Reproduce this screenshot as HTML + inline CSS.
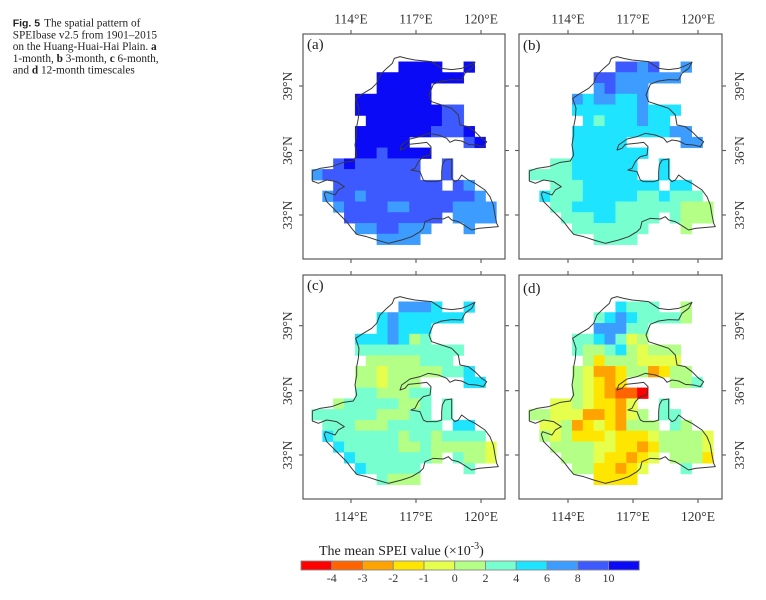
<!DOCTYPE html>
<html>
<head>
<meta charset="utf-8">
<style>
html,body{margin:0;padding:0;background:#fff;}
svg{display:block;}
.R{fill:#ff0000;stroke:#ff0000}
.O{fill:#ff6400;stroke:#ff6400}
.A{fill:#ffa300;stroke:#ffa300}
.Y{fill:#ffe600;stroke:#ffe600}
.L{fill:#e6ff4c;stroke:#e6ff4c}
.G{fill:#b4ff86;stroke:#b4ff86}
.T{fill:#78ffd0;stroke:#78ffd0}
.C{fill:#1ee4ff;stroke:#1ee4ff}
.S{fill:#3c9cff;stroke:#3c9cff}
.B{fill:#3c5aff;stroke:#3c5aff}
.D{fill:#0a0af6;stroke:#0a0af6}
.cells rect{stroke-width:0.04;}
.ax{font-family:"Liberation Serif",serif;font-size:13.5px;fill:#333;}
.frame{fill:none;stroke:#5a5a5a;stroke-width:1.2;}
.tick{stroke:#5a5a5a;stroke-width:1.1;}
.cap{font-family:"Liberation Serif",serif;font-size:11.3px;fill:#222;}
</style>
</head>
<body>
<svg width="766" height="600" viewBox="0 0 766 600" xmlns="http://www.w3.org/2000/svg">
<rect x="0" y="0" width="766" height="600" fill="#fff"/>
<defs>
<path id="ol" fill="none" stroke="#3a3a3a" stroke-width="3" stroke-linejoin="round" d="M268 10 L285 5 L305 10 L330 15 L380 20 L410 40 L440 44 L470 40 L490 32 L510 22 L500 40 L480 55 L470 75 L440 74 L410 78 L385 88 L372 120 L380 140 L410 150 L440 160 L460 180 L465 210 L490 215 L510 230 L530 250 L545 260 L535 275 L515 270 L490 268 L470 258 L450 255 L435 262 L425 250 L400 240 L370 235 L345 245 L315 252 L290 270 L285 285 L300 280 L310 268 L340 265 L365 262 L378 275 L375 300 L355 305 L340 320 L330 340 L318 345 L345 350 L355 375 L365 380 L395 380 L410 375 L410 350 L412 330 L420 315 L440 312 L440 345 L440 370 L450 380 L460 375 L470 360 L490 375 L510 385 L540 405 L555 425 L565 450 L570 480 L575 505 L580 515 L545 518 L520 520 L500 525 L480 512 L460 500 L440 495 L430 485 L415 492 L385 490 L360 500 L355 520 L345 530 L320 545 L290 555 L250 565 L215 555 L185 545 L155 538 L140 520 L125 500 L105 480 L85 460 L65 440 L58 418 L62 410 L90 420 L100 405 L118 395 L95 380 L65 375 L40 385 L22 378 L22 348 L45 340 L80 335 L115 322 L145 318 L155 300 L150 270 L155 240 L155 215 L160 190 L162 160 L152 130 L170 118 L200 100 L215 85 L225 60 L245 40 L262 25 Z"/>
</defs>

<!-- Caption -->
<text class="cap" x="12.7" y="26.5"><tspan font-family="Liberation Sans, sans-serif" font-weight="bold" font-size="10.5">Fig. 5</tspan><tspan dx="4">The spatial pattern of</tspan></text>
<text class="cap" x="12.7" y="38.3">SPEIbase v2.5 from 1901–2015</text>
<text class="cap" x="12.7" y="50.1">on the Huang-Huai-Hai Plain. <tspan font-weight="bold">a</tspan></text>
<text class="cap" x="12.7" y="61.9">1-month, <tspan font-weight="bold">b</tspan> 3-month, <tspan font-weight="bold">c</tspan> 6-month,</text>
<text class="cap" x="12.7" y="73.7">and <tspan font-weight="bold">d</tspan> 12-month timescales</text>

<!-- ===== Panel A ===== -->
<g class="cells" transform="translate(311.7,61.7) scale(10.867,10.767)">
<rect class="D" x="8" y="0" width="4" height="1"/><rect class="D" x="14" y="0" width="1" height="1"/>
<rect class="D" x="6" y="1" width="8" height="1"/>
<rect class="D" x="6" y="2" width="5" height="1"/>
<rect class="D" x="4" y="3" width="7" height="1"/>
<rect class="D" x="4" y="4" width="8" height="1"/><rect class="B" x="12" y="4" width="2" height="1"/>
<rect class="D" x="5" y="5" width="7" height="1"/><rect class="B" x="12" y="5" width="2" height="1"/>
<rect class="D" x="4" y="6" width="7" height="1"/><rect class="B" x="11" y="6" width="3" height="1"/><rect class="D" x="14" y="6" width="1" height="1"/>
<rect class="D" x="4" y="7" width="5" height="1"/><rect class="B" x="14" y="7" width="1" height="1"/><rect class="D" x="15" y="7" width="1" height="1"/>
<rect class="D" x="4" y="8" width="2" height="1"/><rect class="B" x="6" y="8" width="1" height="1"/><rect class="D" x="7" y="8" width="4" height="1"/>
<rect class="B" x="2" y="9" width="1" height="1"/><rect class="D" x="3" y="9" width="1" height="1"/><rect class="B" x="4" y="9" width="6" height="1"/><rect class="B" x="12" y="9" width="1" height="1"/>
<rect class="S" x="0" y="10" width="1" height="1"/><rect class="B" x="1" y="10" width="9" height="1"/><rect class="B" x="12" y="10" width="1" height="1"/>
<rect class="B" x="2" y="11" width="10" height="1"/><rect class="B" x="13" y="11" width="1" height="1"/><rect class="S" x="14" y="11" width="1" height="1"/>
<rect class="S" x="1" y="12" width="1" height="1"/><rect class="B" x="2" y="12" width="2" height="1"/><rect class="S" x="4" y="12" width="1" height="1"/><rect class="B" x="5" y="12" width="10" height="1"/><rect class="S" x="15" y="12" width="1" height="1"/>
<rect class="S" x="2" y="13" width="1" height="1"/><rect class="B" x="3" y="13" width="4" height="1"/><rect class="S" x="7" y="13" width="2" height="1"/><rect class="B" x="9" y="13" width="4" height="1"/><rect class="S" x="13" y="13" width="4" height="1"/>
<rect class="B" x="3" y="14" width="9" height="1"/><rect class="S" x="13" y="14" width="4" height="1"/>
<rect class="S" x="4" y="15" width="2" height="1"/><rect class="B" x="6" y="15" width="2" height="1"/><rect class="S" x="8" y="15" width="3" height="1"/><rect class="S" x="14" y="15" width="1" height="1"/>
<rect class="S" x="6" y="16" width="4" height="1"/>
</g>
<use href="#ol" transform="translate(305,55) scale(0.33333)"/>

<!-- ===== Panel B ===== -->
<g class="cells" transform="translate(528.7,61.7) scale(10.867,10.767)">
<rect class="B" x="8" y="0" width="2" height="1"/><rect class="S" x="10" y="0" width="1" height="1"/><rect class="B" x="11" y="0" width="1" height="1"/><rect class="S" x="14" y="0" width="1" height="1"/>
<rect class="B" x="6" y="1" width="2" height="1"/><rect class="S" x="8" y="1" width="6" height="1"/>
<rect class="S" x="6" y="2" width="1" height="1"/><rect class="B" x="7" y="2" width="1" height="1"/><rect class="S" x="8" y="2" width="3" height="1"/>
<rect class="S" x="4" y="3" width="1" height="1"/><rect class="C" x="5" y="3" width="1" height="1"/><rect class="S" x="6" y="3" width="2" height="1"/><rect class="C" x="8" y="3" width="2" height="1"/><rect class="S" x="10" y="3" width="1" height="1"/>
<rect class="C" x="4" y="4" width="6" height="1"/><rect class="S" x="10" y="4" width="1" height="1"/><rect class="C" x="11" y="4" width="3" height="1"/>
<rect class="C" x="5" y="5" width="1" height="1"/><rect class="T" x="6" y="5" width="1" height="1"/><rect class="C" x="7" y="5" width="3" height="1"/><rect class="S" x="10" y="5" width="1" height="1"/><rect class="C" x="11" y="5" width="2" height="1"/>
<rect class="C" x="4" y="6" width="9" height="1"/><rect class="S" x="13" y="6" width="2" height="1"/>
<rect class="C" x="4" y="7" width="5" height="1"/><rect class="S" x="14" y="7" width="2" height="1"/>
<rect class="C" x="4" y="8" width="7" height="1"/>
<rect class="T" x="2" y="9" width="2" height="1"/><rect class="C" x="4" y="9" width="6" height="1"/><rect class="C" x="12" y="9" width="1" height="1"/>
<rect class="T" x="0" y="10" width="4" height="1"/><rect class="C" x="4" y="10" width="6" height="1"/><rect class="C" x="12" y="10" width="1" height="1"/>
<rect class="T" x="2" y="11" width="3" height="1"/><rect class="C" x="5" y="11" width="7" height="1"/><rect class="C" x="13" y="11" width="2" height="1"/>
<rect class="C" x="1" y="12" width="1" height="1"/><rect class="T" x="2" y="12" width="3" height="1"/><rect class="C" x="5" y="12" width="5" height="1"/><rect class="T" x="10" y="12" width="2" height="1"/><rect class="C" x="12" y="12" width="1" height="1"/><rect class="T" x="13" y="12" width="3" height="1"/>
<rect class="T" x="2" y="13" width="2" height="1"/><rect class="C" x="4" y="13" width="4" height="1"/><rect class="T" x="8" y="13" width="6" height="1"/><rect class="G" x="14" y="13" width="3" height="1"/>
<rect class="T" x="3" y="14" width="3" height="1"/><rect class="C" x="6" y="14" width="2" height="1"/><rect class="T" x="8" y="14" width="4" height="1"/><rect class="T" x="13" y="14" width="1" height="1"/><rect class="G" x="14" y="14" width="3" height="1"/>
<rect class="T" x="4" y="15" width="7" height="1"/><rect class="G" x="14" y="15" width="1" height="1"/>
<rect class="T" x="6" y="16" width="4" height="1"/>
</g>
<use href="#ol" transform="translate(522,55) scale(0.33333)"/>

<!-- ===== Panel C ===== -->
<g class="cells" transform="translate(311.7,301.7) scale(10.867,10.767)">
<rect class="S" x="8" y="0" width="3" height="1"/><rect class="C" x="11" y="0" width="1" height="1"/><rect class="C" x="14" y="0" width="1" height="1"/>
<rect class="C" x="6" y="1" width="1" height="1"/><rect class="S" x="7" y="1" width="1" height="1"/><rect class="C" x="8" y="1" width="6" height="1"/>
<rect class="C" x="6" y="2" width="1" height="1"/><rect class="S" x="7" y="2" width="1" height="1"/><rect class="C" x="8" y="2" width="3" height="1"/>
<rect class="C" x="4" y="3" width="3" height="1"/><rect class="S" x="7" y="3" width="1" height="1"/><rect class="C" x="8" y="3" width="1" height="1"/><rect class="G" x="9" y="3" width="1" height="1"/><rect class="T" x="10" y="3" width="1" height="1"/>
<rect class="T" x="4" y="4" width="10" height="1"/>
<rect class="G" x="5" y="5" width="5" height="1"/><rect class="T" x="10" y="5" width="3" height="1"/>
<rect class="G" x="4" y="6" width="2" height="1"/><rect class="L" x="6" y="6" width="1" height="1"/><rect class="G" x="7" y="6" width="5" height="1"/><rect class="T" x="12" y="6" width="2" height="1"/><rect class="C" x="14" y="6" width="1" height="1"/>
<rect class="G" x="4" y="7" width="2" height="1"/><rect class="L" x="6" y="7" width="1" height="1"/><rect class="G" x="7" y="7" width="3" height="1"/><rect class="C" x="14" y="7" width="2" height="1"/>
<rect class="T" x="4" y="8" width="2" height="1"/><rect class="G" x="6" y="8" width="3" height="1"/><rect class="T" x="9" y="8" width="2" height="1"/>
<rect class="G" x="2" y="9" width="1" height="1"/><rect class="T" x="3" y="9" width="5" height="1"/><rect class="G" x="8" y="9" width="2" height="1"/><rect class="T" x="10" y="9" width="1" height="1"/><rect class="T" x="12" y="9" width="1" height="1"/>
<rect class="T" x="0" y="10" width="6" height="1"/><rect class="G" x="6" y="10" width="3" height="1"/><rect class="T" x="9" y="10" width="2" height="1"/><rect class="T" x="12" y="10" width="1" height="1"/>
<rect class="T" x="1" y="11" width="3" height="1"/><rect class="G" x="4" y="11" width="3" height="1"/><rect class="T" x="7" y="11" width="5" height="1"/><rect class="C" x="13" y="11" width="2" height="1"/>
<rect class="C" x="1" y="12" width="1" height="1"/><rect class="T" x="2" y="12" width="6" height="1"/><rect class="G" x="8" y="12" width="1" height="1"/><rect class="T" x="9" y="12" width="2" height="1"/><rect class="G" x="11" y="12" width="1" height="1"/><rect class="T" x="12" y="12" width="4" height="1"/>
<rect class="C" x="2" y="13" width="1" height="1"/><rect class="T" x="3" y="13" width="5" height="1"/><rect class="G" x="8" y="13" width="2" height="1"/><rect class="T" x="10" y="13" width="1" height="1"/><rect class="G" x="11" y="13" width="5" height="1"/><rect class="L" x="16" y="13" width="1" height="1"/>
<rect class="C" x="3" y="14" width="1" height="1"/><rect class="T" x="4" y="14" width="7" height="1"/><rect class="G" x="11" y="14" width="1" height="1"/><rect class="T" x="13" y="14" width="1" height="1"/><rect class="G" x="14" y="14" width="2" height="1"/><rect class="L" x="16" y="14" width="1" height="1"/>
<rect class="C" x="4" y="15" width="1" height="1"/><rect class="T" x="5" y="15" width="5" height="1"/><rect class="T" x="14" y="15" width="1" height="1"/>
<rect class="T" x="6" y="16" width="1" height="1"/><rect class="G" x="7" y="16" width="3" height="1"/>
</g>
<use href="#ol" transform="translate(305,295) scale(0.33333)"/>

<!-- ===== Panel D ===== -->
<g class="cells" transform="translate(528.7,301.7) scale(10.867,10.767)">
<rect class="C" x="8" y="0" width="1" height="1"/><rect class="T" x="9" y="0" width="3" height="1"/><rect class="G" x="14" y="0" width="1" height="1"/>
<rect class="T" x="6" y="1" width="1" height="1"/><rect class="C" x="7" y="1" width="1" height="1"/><rect class="S" x="8" y="1" width="1" height="1"/><rect class="C" x="9" y="1" width="1" height="1"/><rect class="T" x="10" y="1" width="4" height="1"/><rect class="G" x="14" y="1" width="1" height="1"/>
<rect class="S" x="6" y="2" width="3" height="1"/><rect class="T" x="9" y="2" width="2" height="1"/>
<rect class="T" x="4" y="3" width="2" height="1"/><rect class="C" x="6" y="3" width="1" height="1"/><rect class="S" x="7" y="3" width="1" height="1"/><rect class="T" x="8" y="3" width="1" height="1"/><rect class="L" x="9" y="3" width="1" height="1"/><rect class="G" x="10" y="3" width="1" height="1"/>
<rect class="T" x="4" y="4" width="1" height="1"/><rect class="G" x="5" y="4" width="2" height="1"/><rect class="T" x="7" y="4" width="1" height="1"/><rect class="C" x="8" y="4" width="1" height="1"/><rect class="G" x="9" y="4" width="1" height="1"/><rect class="L" x="10" y="4" width="1" height="1"/><rect class="G" x="11" y="4" width="3" height="1"/>
<rect class="G" x="5" y="5" width="1" height="1"/><rect class="Y" x="6" y="5" width="1" height="1"/><rect class="G" x="7" y="5" width="3" height="1"/><rect class="L" x="10" y="5" width="4" height="1"/>
<rect class="G" x="4" y="6" width="1" height="1"/><rect class="L" x="5" y="6" width="1" height="1"/><rect class="A" x="6" y="6" width="2" height="1"/><rect class="Y" x="8" y="6" width="1" height="1"/><rect class="G" x="9" y="6" width="2" height="1"/><rect class="A" x="11" y="6" width="1" height="1"/><rect class="Y" x="12" y="6" width="1" height="1"/><rect class="G" x="13" y="6" width="2" height="1"/>
<rect class="G" x="4" y="7" width="1" height="1"/><rect class="L" x="5" y="7" width="1" height="1"/><rect class="Y" x="6" y="7" width="1" height="1"/><rect class="A" x="7" y="7" width="1" height="1"/><rect class="Y" x="8" y="7" width="1" height="1"/><rect class="G" x="13" y="7" width="2" height="1"/><rect class="T" x="15" y="7" width="1" height="1"/>
<rect class="G" x="4" y="8" width="1" height="1"/><rect class="L" x="5" y="8" width="1" height="1"/><rect class="Y" x="6" y="8" width="1" height="1"/><rect class="A" x="7" y="8" width="1" height="1"/><rect class="O" x="8" y="8" width="2" height="1"/><rect class="R" x="10" y="8" width="1" height="1"/>
<rect class="L" x="2" y="9" width="2" height="1"/><rect class="G" x="4" y="9" width="1" height="1"/><rect class="L" x="5" y="9" width="1" height="1"/><rect class="Y" x="6" y="9" width="2" height="1"/><rect class="A" x="8" y="9" width="1" height="1"/><rect class="L" x="9" y="9" width="1" height="1"/><rect class="T" x="12" y="9" width="1" height="1"/>
<rect class="G" x="0" y="10" width="2" height="1"/><rect class="L" x="2" y="10" width="3" height="1"/><rect class="A" x="5" y="10" width="2" height="1"/><rect class="Y" x="7" y="10" width="1" height="1"/><rect class="A" x="8" y="10" width="1" height="1"/><rect class="L" x="9" y="10" width="1" height="1"/><rect class="G" x="10" y="10" width="1" height="1"/><rect class="T" x="12" y="10" width="2" height="1"/>
<rect class="L" x="1" y="11" width="2" height="1"/><rect class="G" x="3" y="11" width="1" height="1"/><rect class="A" x="4" y="11" width="1" height="1"/><rect class="Y" x="5" y="11" width="1" height="1"/><rect class="L" x="6" y="11" width="1" height="1"/><rect class="Y" x="7" y="11" width="1" height="1"/><rect class="A" x="8" y="11" width="1" height="1"/><rect class="G" x="9" y="11" width="3" height="1"/><rect class="T" x="13" y="11" width="1" height="1"/><rect class="G" x="14" y="11" width="1" height="1"/>
<rect class="G" x="1" y="12" width="1" height="1"/><rect class="L" x="2" y="12" width="1" height="1"/><rect class="G" x="3" y="12" width="1" height="1"/><rect class="Y" x="4" y="12" width="3" height="1"/><rect class="L" x="7" y="12" width="1" height="1"/><rect class="Y" x="8" y="12" width="3" height="1"/><rect class="L" x="11" y="12" width="1" height="1"/><rect class="G" x="12" y="12" width="4" height="1"/><rect class="L" x="16" y="12" width="1" height="1"/>
<rect class="G" x="2" y="13" width="4" height="1"/><rect class="L" x="6" y="13" width="2" height="1"/><rect class="Y" x="8" y="13" width="2" height="1"/><rect class="A" x="10" y="13" width="1" height="1"/><rect class="Y" x="11" y="13" width="1" height="1"/><rect class="G" x="12" y="13" width="4" height="1"/><rect class="L" x="16" y="13" width="1" height="1"/>
<rect class="G" x="3" y="14" width="3" height="1"/><rect class="L" x="6" y="14" width="1" height="1"/><rect class="Y" x="7" y="14" width="2" height="1"/><rect class="A" x="9" y="14" width="1" height="1"/><rect class="Y" x="10" y="14" width="1" height="1"/><rect class="L" x="11" y="14" width="1" height="1"/><rect class="G" x="13" y="14" width="3" height="1"/><rect class="Y" x="16" y="14" width="1" height="1"/>
<rect class="G" x="4" y="15" width="2" height="1"/><rect class="Y" x="6" y="15" width="2" height="1"/><rect class="A" x="8" y="15" width="1" height="1"/><rect class="Y" x="9" y="15" width="1" height="1"/><rect class="L" x="10" y="15" width="1" height="1"/><rect class="T" x="14" y="15" width="1" height="1"/>
<rect class="Y" x="6" y="16" width="4" height="1"/>
</g>
<use href="#ol" transform="translate(522,295) scale(0.33333)"/>

<!-- Frames -->
<rect class="frame" x="303" y="34" width="202" height="225"/>
<rect class="frame" x="519" y="34" width="203" height="225"/>
<rect class="frame" x="303" y="275" width="202" height="224"/>
<rect class="frame" x="519" y="275" width="203" height="224"/>

<!-- Ticks -->
<g class="tick">
<!-- panel a -->
<line x1="351" y1="30" x2="351" y2="34"/><line x1="416" y1="30" x2="416" y2="34"/><line x1="481" y1="30" x2="481" y2="34"/>
<line x1="351" y1="259" x2="351" y2="263"/><line x1="416" y1="259" x2="416" y2="263"/><line x1="481" y1="259" x2="481" y2="263"/>
<line x1="299" y1="86" x2="303" y2="86"/><line x1="299" y1="150.5" x2="303" y2="150.5"/><line x1="299" y1="215" x2="303" y2="215"/>
<line x1="505" y1="86" x2="509" y2="86"/><line x1="505" y1="150.5" x2="509" y2="150.5"/><line x1="505" y1="215" x2="509" y2="215"/>
<!-- panel b -->
<line x1="568" y1="30" x2="568" y2="34"/><line x1="633" y1="30" x2="633" y2="34"/><line x1="698" y1="30" x2="698" y2="34"/>
<line x1="568" y1="259" x2="568" y2="263"/><line x1="633" y1="259" x2="633" y2="263"/><line x1="698" y1="259" x2="698" y2="263"/>
<line x1="515" y1="86" x2="519" y2="86"/><line x1="515" y1="150.5" x2="519" y2="150.5"/><line x1="515" y1="215" x2="519" y2="215"/>
<line x1="722" y1="86" x2="726" y2="86"/><line x1="722" y1="150.5" x2="726" y2="150.5"/><line x1="722" y1="215" x2="726" y2="215"/>
<!-- panel c -->
<line x1="351" y1="271" x2="351" y2="275"/><line x1="416" y1="271" x2="416" y2="275"/><line x1="481" y1="271" x2="481" y2="275"/>
<line x1="351" y1="499" x2="351" y2="503"/><line x1="416" y1="499" x2="416" y2="503"/><line x1="481" y1="499" x2="481" y2="503"/>
<line x1="299" y1="325.7" x2="303" y2="325.7"/><line x1="299" y1="390.7" x2="303" y2="390.7"/><line x1="299" y1="455" x2="303" y2="455"/>
<line x1="505" y1="325.7" x2="509" y2="325.7"/><line x1="505" y1="390.7" x2="509" y2="390.7"/><line x1="505" y1="455" x2="509" y2="455"/>
<!-- panel d -->
<line x1="568" y1="271" x2="568" y2="275"/><line x1="633" y1="271" x2="633" y2="275"/><line x1="698" y1="271" x2="698" y2="275"/>
<line x1="568" y1="499" x2="568" y2="503"/><line x1="633" y1="499" x2="633" y2="503"/><line x1="698" y1="499" x2="698" y2="503"/>
<line x1="515" y1="325.7" x2="519" y2="325.7"/><line x1="515" y1="390.7" x2="519" y2="390.7"/><line x1="515" y1="455" x2="519" y2="455"/>
<line x1="722" y1="325.7" x2="726" y2="325.7"/><line x1="722" y1="390.7" x2="726" y2="390.7"/><line x1="722" y1="455" x2="726" y2="455"/>
</g>

<!-- Top lon labels -->
<g class="ax" text-anchor="middle">
<text x="351" y="23.5">114°E</text><text x="416" y="23.5">117°E</text><text x="481" y="23.5">120°E</text>
<text x="568" y="23.5">114°E</text><text x="633" y="23.5">117°E</text><text x="698" y="23.5">120°E</text>
<text x="351" y="521">114°E</text><text x="416" y="521">117°E</text><text x="481" y="521">120°E</text>
<text x="568" y="521">114°E</text><text x="633" y="521">117°E</text><text x="698" y="521">120°E</text>
</g>

<!-- Right lat labels (b, d) -->
<g class="ax" text-anchor="middle">
<text transform="translate(744,86) rotate(-90)">39°N</text>
<text transform="translate(744,150.5) rotate(-90)">36°N</text>
<text transform="translate(744,215) rotate(-90)">33°N</text>
<text transform="translate(744,325.7) rotate(-90)">39°N</text>
<text transform="translate(744,390.7) rotate(-90)">36°N</text>
<text transform="translate(744,455) rotate(-90)">33°N</text>
</g>
<!-- Left lat labels (a, c) -->
<g class="ax" text-anchor="middle" fill="#555">
<text transform="translate(292,86) rotate(-90)">39°N</text>
<text transform="translate(292,150.5) rotate(-90)">36°N</text>
<text transform="translate(292,215) rotate(-90)">33°N</text>
<text transform="translate(292,325.7) rotate(-90)">39°N</text>
<text transform="translate(292,390.7) rotate(-90)">36°N</text>
<text transform="translate(292,455) rotate(-90)">33°N</text>
</g>

<!-- Panel tags -->
<g font-family="Liberation Serif, serif" font-size="15" fill="#222">
<text x="307" y="49">(a)</text>
<text x="523" y="50">(b)</text>
<text x="307" y="290">(c)</text>
<text x="523" y="293">(d)</text>
</g>

<!-- Colorbar -->
<text x="319" y="555" font-family="Liberation Serif, serif" font-size="14" fill="#222">The mean SPEI value (×10<tspan font-size="10" dy="-6">-3</tspan><tspan dy="6">)</tspan></text>
<g stroke="#888" stroke-width="0.9">
<rect x="301" y="561" width="30.75" height="9" fill="#ff0000"/>
<rect x="331.75" y="561" width="30.75" height="9" fill="#ff6400"/>
<rect x="362.5" y="561" width="30.75" height="9" fill="#ffa300"/>
<rect x="393.25" y="561" width="30.75" height="9" fill="#ffe600"/>
<rect x="424" y="561" width="30.75" height="9" fill="#e6ff4c"/>
<rect x="454.75" y="561" width="30.75" height="9" fill="#b4ff86"/>
<rect x="485.5" y="561" width="30.75" height="9" fill="#78ffd0"/>
<rect x="516.25" y="561" width="30.75" height="9" fill="#1ee4ff"/>
<rect x="547" y="561" width="30.75" height="9" fill="#3c9cff"/>
<rect x="577.75" y="561" width="30.75" height="9" fill="#3c5aff"/>
<rect x="608.5" y="561" width="30.75" height="9" fill="#0a0af6"/>
</g>
<g font-family="Liberation Serif, serif" font-size="12" fill="#333" text-anchor="middle">
<text x="331.75" y="582">-4</text>
<text x="362.5" y="582">-3</text>
<text x="393.25" y="582">-2</text>
<text x="424" y="582">-1</text>
<text x="454.75" y="582">0</text>
<text x="485.5" y="582">2</text>
<text x="516.25" y="582">4</text>
<text x="547" y="582">6</text>
<text x="577.75" y="582">8</text>
<text x="608.5" y="582">10</text>
</g>
</svg>
</body>
</html>
